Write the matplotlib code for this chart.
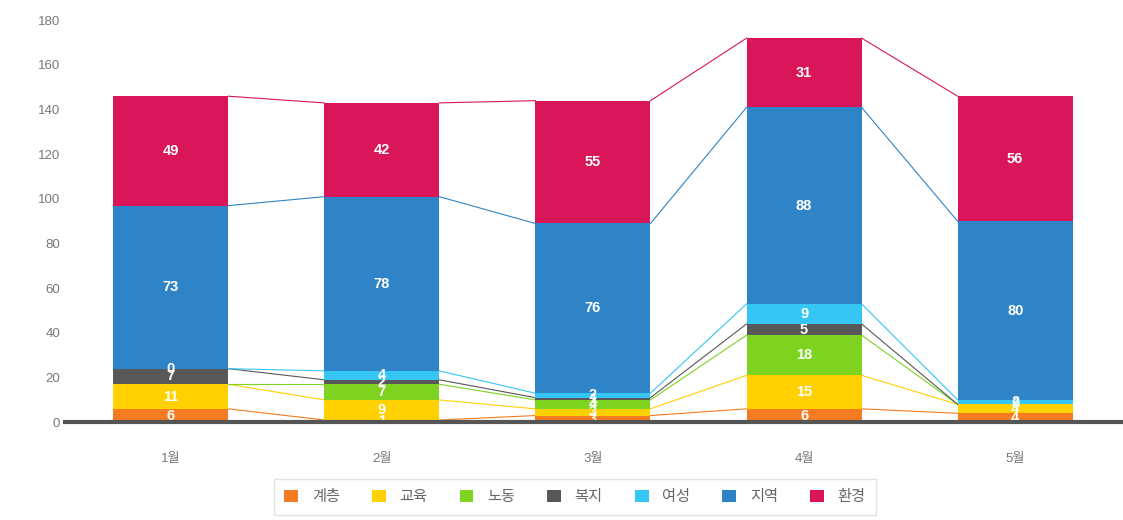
import numpy as np
import matplotlib.pyplot as plt

plt.rcParams['font.family'] = ['Liberation Sans', 'Noto Sans CJK KR', 'DejaVu Sans']

months = ['1월', '2월', '3월', '4월', '5월']
series = ['계층', '교육', '노동', '복지', '여성', '지역', '환경']
colors = ['#F47B20', '#FFD100', '#7ED321', '#585858', '#36C6F4', '#2F84C8', '#D81659']

gyecheung = [6, 1, 3, 6, 4]
gyoyuk = [11, 9, 3, 15, 4]
nodong = [0, 7, 4, 18, 0]
bokji = [7, 2, 1, 5, 0]
yeoseong = [0, 4, 2, 9, 2]
jiyeok = [73, 78, 76, 88, 80]
hwangyeong = [49, 42, 55, 31, 56]

values = np.array([gyecheung, gyoyuk, nodong, bokji, yeoseong, jiyeok, hwangyeong])

fig = plt.figure(figsize=(11.23, 5.2), dpi=100)
ax = fig.add_axes([0.058, 0.188, 0.94, 0.773])

x = np.arange(len(months))
width = 0.545

# only the last zero in each column keeps its label (others get hidden by overlap)
last_zero = {}
for k in range(values.shape[0]):
    for i in range(values.shape[1]):
        if values[k, i] == 0:
            last_zero[i] = k

bottom = np.zeros(len(months))
for k, (name, vals, col) in enumerate(zip(series, values, colors)):
    ax.bar(x, vals, width, bottom=bottom, color=col, label=name, zorder=2)
    top = bottom + vals
    # connecting lines between bars
    for i in range(len(months) - 1):
        ax.plot([x[i] + width / 2, x[i + 1] - width / 2], [top[i], top[i + 1]],
                color=col, lw=0.8, zorder=1)
    for i, v in enumerate(vals):
        if v == 0 and last_zero.get(i) != k:
            continue
        ax.text(x[i], bottom[i] + v / 2, str(v), ha='center', va='center',
                color='white', fontsize=10.5, fontweight='bold', zorder=3)
    bottom = top

ax.set_xlim(-0.5, len(months) - 0.5)
ax.set_ylim(0, 180)
ax.set_yticks(range(0, 181, 20))
ax.set_xticks(x)
ax.set_xticklabels(months)
ax.tick_params(axis='both', length=0, colors='#777777', labelsize=9.5)
ax.tick_params(axis='x', pad=22)
for s in ['top', 'right', 'left']:
    ax.spines[s].set_visible(False)
ax.spines['bottom'].set_color('#555555')
ax.spines['bottom'].set_linewidth(3)
ax.spines['bottom'].set_zorder(4)

leg = fig.legend(loc='center', bbox_to_anchor=(0.512, 0.044), ncol=7, frameon=True,
                 fontsize=11, handlelength=0.9, handleheight=0.9, columnspacing=2.1,
                 handletextpad=0.9, borderpad=0.7, fancybox=False, edgecolor='#dddddd')
for t in leg.get_texts():
    t.set_color('#666666')

fig.savefig('out.png', dpi=100)
